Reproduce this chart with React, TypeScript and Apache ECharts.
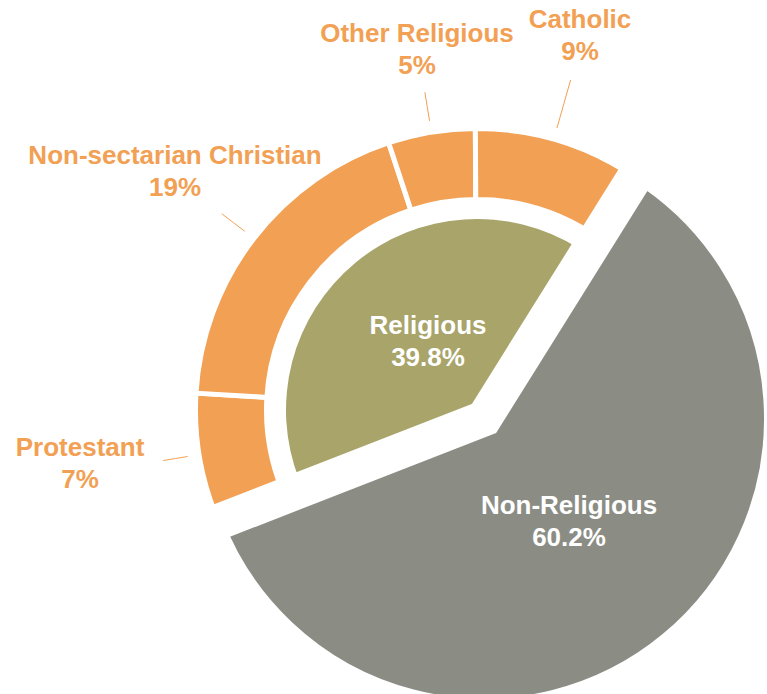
import React, { useEffect, useRef } from 'react';
import * as echarts from 'echarts';

// ---- data ----
const mainCategories = ['Non-Religious', 'Religious'];
const mainValues = [60.2, 39.8];
const religiousCategories = ['Protestant', 'Non-sectarian Christian', 'Other Religious', 'Catholic'];
const religiousValues = [7, 19, 5, 9];

// ---- styles / layout ----
const ORANGE = '#F2A054';
const OLIVE = '#A8A46A';
const GRAY = '#8B8D85';
const FONT = 'Liberation Sans';
const CX = 477;
const CY = 410;
const START = 58; // degrees, counter-clockwise from 3 o'clock
const EXPLODE = 11;
const RING_R: [number, number] = [210.5, 281.5];
const LINE_R0 = 293;

const outerLabelPos: Record<string, [number, number]> = {
  'Protestant': [80, 463],
  'Non-sectarian Christian': [175, 171],
  'Other Religious': [417, 49],
  'Catholic': [580, 35],
};
const outerLineR1: Record<string, number> = {
  'Protestant': 318,
  'Non-sectarian Christian': 322,
  'Other Religious': 322,
  'Catholic': 343,
};
const innerLabelPos: Record<string, [number, number]> = {
  'Religious': [428, 341],
  'Non-Religious': [569, 521],
};

const hiddenItem = (name: string, value: number) => ({
  name,
  value,
  itemStyle: { color: 'transparent', borderWidth: 0 },
  label: { show: false },
  labelLine: { show: false },
});

export default function App() {
  const ref = useRef<HTMLDivElement>(null);
  useEffect(() => {
    if (!ref.current) return;
    const chart = echarts.init(ref.current, undefined, { renderer: 'svg' });
    const textBase = {
      fontFamily: FONT,
      fontWeight: 'bold' as const,
      fontSize: 26,
      lineHeight: 32,
      formatter: '{b}\n{c}%',
    };
    const ringData = [
      hiddenItem(mainCategories[0], mainValues[0]),
      ...religiousCategories.map((n, i) => ({
        name: n,
        value: religiousValues[i],
        itemStyle: { color: ORANGE, borderColor: '#ffffff', borderWidth: 5 },
      })),
    ];
    const ringTotal = ringData.reduce((s, d) => s + d.value, 0);
    // mid angle (math degrees) of each ring item, from the data
    const ringMid: number[] = [];
    let acc = START;
    ringData.forEach((d) => {
      const span = (d.value / ringTotal) * 360;
      ringMid.push(acc - span / 2);
      acc -= span;
    });
    const mainTotal = mainValues.reduce((a, b) => a + b, 0);
    const grayMid = ((START - (mainValues[0] / mainTotal) * 360 / 2) * Math.PI) / 180;
    const grayCenter = [CX + EXPLODE * Math.cos(grayMid), CY - EXPLODE * Math.sin(grayMid)];

    chart.setOption({
      animation: false,
      series: [
        {
          type: 'pie',
          silent: true,
          center: [CX, CY],
          radius: RING_R,
          startAngle: START,
          clockwise: true,
          avoidLabelOverlap: false,
          label: { show: true, color: ORANGE, align: 'center', ...textBase },
          labelLine: { show: true, lineStyle: { color: ORANGE, width: 1 } },
          labelLayout: (p: any) => {
            const name = ringData[p.dataIndex].name;
            const pos = outerLabelPos[name];
            if (!pos) return {};
            const a = (ringMid[p.dataIndex] * Math.PI) / 180;
            const r1 = outerLineR1[name];
            const p0 = [CX + LINE_R0 * Math.cos(a), CY - LINE_R0 * Math.sin(a)];
            const p1 = [CX + r1 * Math.cos(a), CY - r1 * Math.sin(a)];
            const pm = [(p0[0] + p1[0]) / 2, (p0[1] + p1[1]) / 2];
            return {
              x: pos[0],
              y: pos[1],
              align: 'center',
              verticalAlign: 'middle',
              labelLinePoints: [p0, pm, p1],
            };
          },
          data: ringData,
        },
        {
          type: 'pie',
          silent: true,
          center: [CX, CY],
          radius: [0, 191],
          startAngle: START,
          avoidLabelOverlap: false,
          label: { show: true, color: '#ffffff', align: 'center', ...textBase },
          labelLine: { show: false },
          labelLayout: (p: any) => {
            const pos = innerLabelPos[mainCategories[p.dataIndex]];
            return { x: pos[0], y: pos[1], align: 'center', verticalAlign: 'middle' };
          },
          data: [
            hiddenItem(mainCategories[0], mainValues[0]),
            { name: mainCategories[1], value: mainValues[1], itemStyle: { color: OLIVE } },
          ],
        },
        {
          type: 'pie',
          silent: true,
          center: grayCenter,
          radius: [0, 298],
          startAngle: START,
          avoidLabelOverlap: false,
          z: 5,
          label: { show: true, color: '#ffffff', align: 'center', ...textBase },
          labelLine: { show: false },
          labelLayout: (p: any) => {
            const pos = innerLabelPos[mainCategories[p.dataIndex]];
            return { x: pos[0], y: pos[1], align: 'center', verticalAlign: 'middle' };
          },
          data: [
            {
              name: mainCategories[0],
              value: mainValues[0],
              itemStyle: { color: GRAY, borderColor: '#ffffff', borderWidth: 36, borderJoin: 'miter' },
            },
            hiddenItem(mainCategories[1], mainValues[1]),
          ],
        },
      ],
    });
    return () => chart.dispose();
  }, []);
  return (
    <div
      ref={ref}
      style={{ position: 'absolute', left: 0, top: 0, width: 767, height: 694, background: '#ffffff' }}
    />
  );
}
